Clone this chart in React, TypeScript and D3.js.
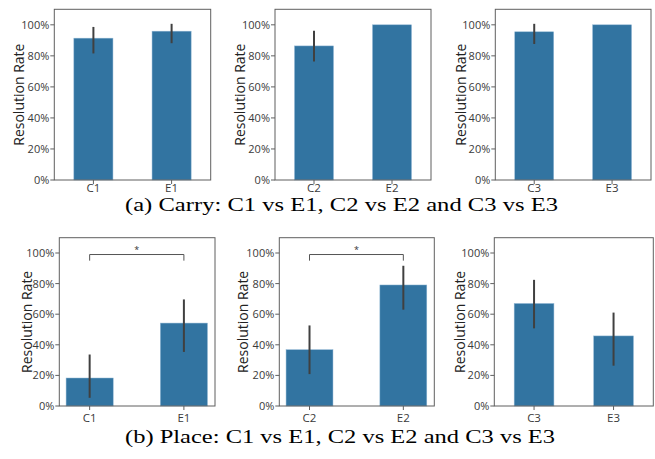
import React from "react";
import * as d3 from "d3";

// values (fractions of 1)
const carryLabels = [["C1", "E1"], ["C2", "E2"], ["C3", "E3"]];
const carryMeans = [[0.914, 0.959], [0.864, 1.0], [0.955, 1.0]];
const carryLow = [[0.822, 0.888], [0.77, 1.0], [0.883, 1.0]];
const carryHigh = [[0.98, 1.0], [0.955, 1.0], [1.0, 1.0]];

const placeLabels = [["C1", "E1"], ["C2", "E2"], ["C3", "E3"]];
const placeMeans = [[0.183, 0.542], [0.368, 0.791], [0.67, 0.458]];
const placeLow = [[0.06, 0.36], [0.215, 0.636], [0.514, 0.27]];
const placeHigh = [[0.33, 0.69], [0.52, 0.91], [0.818, 0.604]];
const placeSignificant = [true, true, false];

const yTicks = [0, 0.2, 0.4, 0.6, 0.8, 1.0];
const captions = [
  "(a) Carry: C1 vs E1, C2 vs E2 and C3 vs E3",
  "(b) Place: C1 vs E1, C2 vs E2 and C3 vs E3",
];

const W = 655, H = 459;
const barColor = "#3274a1";
const spineColor = "#5f5f5f";
const sans = "'Open Sans', 'Liberation Sans', sans-serif";
const serif = "'Liberation Serif', serif";

type PanelProps = {
  x0: number; x1: number; y0: number; y1: number;
  xDomain: [number, number];
  labels: string[]; means: number[]; low: number[]; high: number[];
  star?: boolean; labelX: number; xLabelGap: number;
};

function Panel(p: PanelProps) {
  const x = d3.scaleLinear().domain(p.xDomain).range([p.x0, p.x1]);
  const y = d3.scaleLinear().domain([0, 1.1]).range([p.y1, p.y0]);
  const bw = x(0.5) - x(0);
  const fmt = d3.format(".0%");
  return (
    <g>
      {p.means.map((m, i) => (
        <rect key={"b" + i} x={x(i) - bw / 2} y={y(m)} width={bw} height={y(0) - y(m)}
          fill={barColor} stroke="#8fb6d3" strokeWidth={0.5} />
      ))}
      {p.means.map((m, i) => p.high[i] - p.low[i] > 0.001 ? (
        <line key={"e" + i} x1={x(i)} x2={x(i)} y1={y(p.low[i])} y2={y(p.high[i])}
          stroke="#404040" strokeWidth={2} strokeLinecap="square" />
      ) : null)}
      {p.star && (
        <g>
          <path d={`M${x(0)},${y(0.95)}V${y(0.99)}H${x(1)}V${y(0.95)}`}
            fill="none" stroke="#555" strokeWidth={1} />
          <text x={(x(0) + x(1)) / 2} y={y(0.99) - 2} textAnchor="middle"
            fontSize={9} fill="#333" fontFamily={sans}>*</text>
        </g>
      )}
      <rect x={p.x0} y={p.y0} width={p.x1 - p.x0} height={p.y1 - p.y0}
        fill="none" stroke={spineColor} strokeWidth={1} />
      {yTicks.map((t) => (
        <g key={"y" + t}>
          <line x1={p.x0 - 4} x2={p.x0} y1={y(t)} y2={y(t)} stroke={spineColor} />
          <text x={p.x0 - 5} y={y(t)} dy="0.36em" textAnchor="end" fontSize={11}
            fill="#3a3a3a" fontFamily={sans}>{fmt(t)}</text>
        </g>
      ))}
      {p.labels.map((l, i) => (
        <g key={"x" + i}>
          <line x1={x(i)} x2={x(i)} y1={p.y1} y2={p.y1 + 4} stroke={spineColor} />
          <text x={x(i)} y={p.y1 + p.xLabelGap} textAnchor="middle" fontSize={11.5}
            fill="#3a3a3a" fontFamily={sans}>{l}</text>
        </g>
      ))}
      <text transform={`translate(${p.labelX},${(p.y0 + p.y1) / 2}) rotate(-90)`}
        textAnchor="middle" fontSize={14} fill="#222"
        fontFamily={sans}>Resolution Rate</text>
    </g>
  );
}

export default function App() {
  const topBoxes = [[54.3, 210.7], [275, 431], [495.3, 651]];
  const topLabelX = [24, 245, 465.5];
  const botBoxes = [[59.3, 215], [279.3, 434.3], [494.3, 653.3]];
  const botLabelX = [31.5, 247.5, 465];
  const botDomains: [number, number][] = [[-0.322, 1.33], [-0.322, 1.33], [-0.5, 1.5]];
  return (
    <svg width={W} height={H} style={{ position: "absolute", left: 0, top: 0, background: "#fff" }}>
      {carryMeans.map((m, k) => (
        <Panel key={"t" + k} x0={topBoxes[k][0]} x1={topBoxes[k][1]} y0={9.3} y1={180}
          xDomain={[-0.5, 1.5]} labels={carryLabels[k]} means={m}
          low={carryLow[k]} high={carryHigh[k]} labelX={topLabelX[k]} xLabelGap={12} />
      ))}
      {placeMeans.map((m, k) => (
        <Panel key={"p" + k} x0={botBoxes[k][0]} x1={botBoxes[k][1]} y0={237.7} y1={406}
          xDomain={botDomains[k]} labels={placeLabels[k]} means={m}
          low={placeLow[k]} high={placeHigh[k]} star={placeSignificant[k]}
          labelX={botLabelX[k]} xLabelGap={16} />
      ))}
      <text x={341.5} y={211} textAnchor="middle" fontSize={19} textLength={433}
        lengthAdjust="spacingAndGlyphs" fontFamily={serif} fill="#000">{captions[0]}</text>
      <text x={340} y={443} textAnchor="middle" fontSize={19} textLength={430}
        lengthAdjust="spacingAndGlyphs" fontFamily={serif} fill="#000">{captions[1]}</text>
    </svg>
  );
}
